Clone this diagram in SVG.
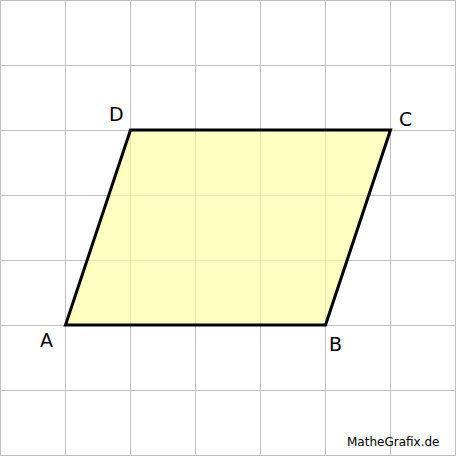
<svg xmlns="http://www.w3.org/2000/svg" width="456" height="456" viewBox="0 0 456 456">
<style>
.grid line{stroke:#c0c0c0;stroke-width:1}
.lbl{font-family:"DejaVu Sans",Verdana,sans-serif;font-size:19px;fill:#000}
.credit{font-family:"DejaVu Sans",Verdana,sans-serif;font-size:12px;fill:#000}
</style>
<rect width="456" height="456" fill="#fff"/>
<g class="grid">
<line x1="0.5" y1="0" x2="0.5" y2="456"/>
<line x1="65.5" y1="0" x2="65.5" y2="456"/>
<line x1="130.5" y1="0" x2="130.5" y2="456"/>
<line x1="195.5" y1="0" x2="195.5" y2="456"/>
<line x1="260.5" y1="0" x2="260.5" y2="456"/>
<line x1="325.5" y1="0" x2="325.5" y2="456"/>
<line x1="390.5" y1="0" x2="390.5" y2="456"/>
<line x1="455.5" y1="0" x2="455.5" y2="456"/>
<line x1="0" y1="0.5" x2="456" y2="0.5"/>
<line x1="0" y1="65.5" x2="456" y2="65.5"/>
<line x1="0" y1="130.5" x2="456" y2="130.5"/>
<line x1="0" y1="195.5" x2="456" y2="195.5"/>
<line x1="0" y1="260.5" x2="456" y2="260.5"/>
<line x1="0" y1="325.5" x2="456" y2="325.5"/>
<line x1="0" y1="390.5" x2="456" y2="390.5"/>
<line x1="0" y1="455.5" x2="456" y2="455.5"/>
</g>
<g id="parallelogram">
<polygon points="65.5,325 325.5,325 390.5,130 130.5,130" fill="#ffff99" fill-opacity="0.6" stroke="#000" stroke-width="3" stroke-linejoin="miter"/>
</g>
<g id="labels">
<text class="lbl" x="40" y="347">A</text>
<text class="lbl" x="329" y="351">B</text>
<text class="lbl" x="399" y="126">C</text>
<text class="lbl" x="109" y="121">D</text>
</g>
<text class="credit" x="347" y="446">MatheGrafix.de</text>
</svg>
